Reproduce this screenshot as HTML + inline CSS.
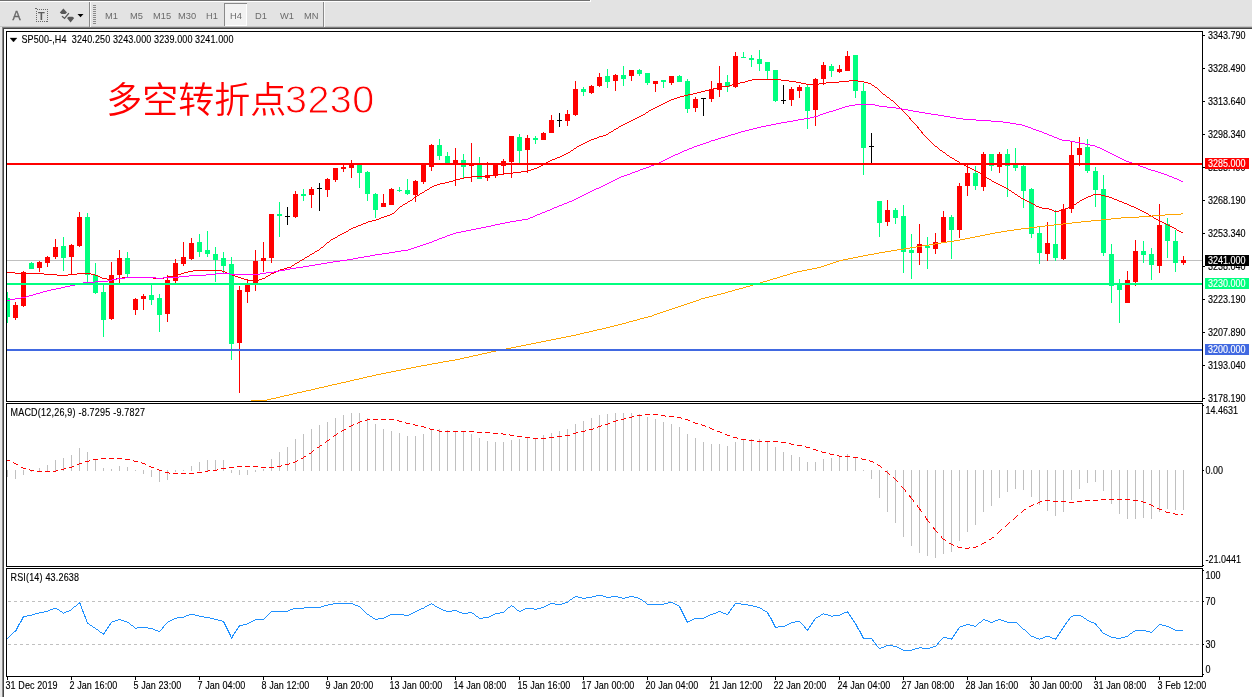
<!DOCTYPE html>
<html lang="zh"><head><meta charset="utf-8"><title>SP500-,H4</title>
<style>
html,body{margin:0;padding:0;background:#e3e3e3;}
body{width:1252px;height:697px;overflow:hidden;position:relative;font-family:"Liberation Sans","Noto Sans CJK SC",sans-serif;}
#tb{position:absolute;left:0;top:0;width:1252px;height:29px;background:#e3e3e3;}
.tf{position:absolute;top:8px;height:14px;line-height:14px;font-size:10px;color:#6a6a6a;white-space:nowrap;}
#chart{position:absolute;left:0;top:0;}
svg{will-change:transform;}
svg text{font-family:"Liberation Sans","Noto Sans CJK SC",sans-serif;}
.ax{font-size:9px;fill:#000;stroke:#000;stroke-width:0.12px;}
.note{position:absolute;left:106.2px;top:78.3px;font-size:36px;line-height:46px;color:#ff0000;font-weight:350;white-space:nowrap;font-family:"Liberation Sans","Noto Sans CJK SC",sans-serif;}
.note span{font-family:"Liberation Sans","Noto Sans CJK SC",sans-serif;font-weight:400;font-size:39.5px;line-height:0;letter-spacing:0.45px;margin-left:-1.2px;-webkit-text-stroke:0.9px #fff;}
</style></head><body>

<div id="tb"></div>
<svg id="chart" width="1252" height="697" viewBox="0 0 1252 697">
<rect x="0" y="0" width="590" height="1" fill="#707070"/><rect x="0" y="1" width="591" height="1" fill="#fff"/><rect x="590" y="0" width="1" height="2" fill="#fff"/>
<rect x="0" y="26" width="1252" height="1" fill="#c6c6c6"/><rect x="0" y="27" width="1252" height="1" fill="#7e7e7e"/><rect x="0" y="28" width="1252" height="1" fill="#444"/>
<rect x="4" y="29" width="1248" height="668" fill="#fff"/>
<rect x="0" y="27" width="2" height="670" fill="#e9e9e9"/><rect x="2" y="27" width="1" height="670" fill="#8a8a8a"/><rect x="3" y="28" width="1" height="669" fill="#444"/>
<g id="tbicons">
<rect x="224" y="3" width="23" height="23" fill="#f2f2f2"/><rect x="224" y="3" width="23" height="1" fill="#8a8a8a"/><rect x="224" y="3" width="1" height="23" fill="#8a8a8a"/><rect x="246" y="4" width="1" height="22" fill="#fff"/><rect x="225" y="25" width="22" height="1" fill="#fff"/>
<rect x="89" y="2" width="1" height="25" fill="#8a8a8a"/><rect x="90" y="2" width="1" height="25" fill="#f8f8f8"/>
<rect x="323" y="2" width="1" height="25" fill="#8a8a8a"/><rect x="324" y="2" width="1" height="25" fill="#f8f8f8"/>
<rect x="93" y="5" width="3" height="1" fill="#8a8a8a"/>
<rect x="93" y="7" width="3" height="1" fill="#8a8a8a"/>
<rect x="93" y="9" width="3" height="1" fill="#8a8a8a"/>
<rect x="93" y="11" width="3" height="1" fill="#8a8a8a"/>
<rect x="93" y="13" width="3" height="1" fill="#8a8a8a"/>
<rect x="93" y="15" width="3" height="1" fill="#8a8a8a"/>
<rect x="93" y="17" width="3" height="1" fill="#8a8a8a"/>
<rect x="93" y="19" width="3" height="1" fill="#8a8a8a"/>
<rect x="93" y="21" width="3" height="1" fill="#8a8a8a"/>
<rect x="93" y="23" width="3" height="1" fill="#8a8a8a"/>
<text x="12.4" y="19.9" style="font-size:12.2px;fill:#686868;stroke:#686868;stroke-width:0.4px">A</text>
<rect x="36.5" y="9.5" width="11" height="12" fill="none" stroke="#686868" stroke-width="1" stroke-dasharray="1 1" shape-rendering="crispEdges"/>
<rect x="35" y="8" width="2" height="1" fill="#686868" shape-rendering="crispEdges"/>
<text x="38" y="19.7" style="font-size:11px;fill:#5c5c5c;font-weight:bold">T</text>
<path d="M63.4 8.6L67 12.6L65.3 14L61.5 14L59.8 12.6Z M70.6 22.4L74.2 18L72.5 16.7L68.7 16.7L67 18Z" fill="#585858"/>
<path d="M62 16.2L64.6 18.4L68.9 13.2" fill="none" stroke="#585858" stroke-width="1.3"/>
<path d="M77.5 14H83.5L80.5 17.2Z" fill="#000"/>
<text x="105" y="18.8" style="font-size:9.3px;fill:#6a6a6a">M1</text>
<text x="130" y="18.8" style="font-size:9.3px;fill:#6a6a6a">M5</text>
<text x="153" y="18.8" style="font-size:9.3px;fill:#6a6a6a">M15</text>
<text x="178" y="18.8" style="font-size:9.3px;fill:#6a6a6a">M30</text>
<text x="206" y="18.8" style="font-size:9.3px;fill:#6a6a6a">H1</text>
<text x="230" y="18.8" style="font-size:9.3px;fill:#6a6a6a">H4</text>
<text x="255" y="18.8" style="font-size:9.3px;fill:#6a6a6a">D1</text>
<text x="280" y="18.8" style="font-size:9.3px;fill:#6a6a6a">W1</text>
<text x="304" y="18.8" style="font-size:9.3px;fill:#6a6a6a">MN</text>
</g>
<g shape-rendering="crispEdges">
<path d="M6.5 31.5H1202.5V401.5H6.5Z" fill="none" stroke="#000" stroke-width="1"/>
<path d="M6.5 403.5H1202.5V566.5H6.5Z" fill="none" stroke="#000" stroke-width="1"/>
<path d="M6.5 568.5H1202.5V676.5H6.5Z" fill="none" stroke="#000" stroke-width="1"/>
<rect x="7" y="260" width="1195" height="1" fill="#c0c0c0"/>
</g>
<defs><clipPath id="cm"><rect x="7" y="32" width="1195" height="369"/></clipPath></defs>
<g clip-path="url(#cm)" shape-rendering="crispEdges">
<rect x="7" y="292" width="1" height="31" fill="#00ff7f"/>
<rect x="5" y="298" width="5" height="19" fill="#00ff7f"/>
<rect x="15" y="302" width="1" height="18" fill="#ff0000"/>
<rect x="13" y="305" width="5" height="13" fill="#ff0000"/>
<rect x="23" y="271" width="1" height="36" fill="#ff0000"/>
<rect x="21" y="272" width="5" height="34" fill="#ff0000"/>
<rect x="31" y="262" width="1" height="7" fill="#00ff7f"/>
<rect x="29" y="263" width="5" height="6" fill="#00ff7f"/>
<rect x="39" y="261" width="1" height="11" fill="#ff0000"/>
<rect x="37" y="262" width="5" height="6" fill="#ff0000"/>
<rect x="47" y="256" width="1" height="11" fill="#ff0000"/>
<rect x="45" y="257" width="5" height="6" fill="#ff0000"/>
<rect x="55" y="239" width="1" height="20" fill="#ff0000"/>
<rect x="53" y="247" width="5" height="10" fill="#ff0000"/>
<rect x="63" y="237" width="1" height="34" fill="#00ff7f"/>
<rect x="61" y="246" width="5" height="12" fill="#00ff7f"/>
<rect x="71" y="244" width="1" height="30" fill="#ff0000"/>
<rect x="69" y="245" width="5" height="12" fill="#ff0000"/>
<rect x="79" y="212" width="1" height="35" fill="#ff0000"/>
<rect x="77" y="217" width="5" height="29" fill="#ff0000"/>
<rect x="87" y="213" width="1" height="70" fill="#00ff7f"/>
<rect x="85" y="217" width="5" height="58" fill="#00ff7f"/>
<rect x="95" y="263" width="1" height="31" fill="#00ff7f"/>
<rect x="93" y="275" width="5" height="18" fill="#00ff7f"/>
<rect x="103" y="285" width="1" height="52" fill="#00ff7f"/>
<rect x="101" y="292" width="5" height="28" fill="#00ff7f"/>
<rect x="111" y="262" width="1" height="58" fill="#ff0000"/>
<rect x="109" y="275" width="5" height="44" fill="#ff0000"/>
<rect x="119" y="250" width="1" height="33" fill="#ff0000"/>
<rect x="117" y="258" width="5" height="17" fill="#ff0000"/>
<rect x="127" y="252" width="1" height="26" fill="#00ff7f"/>
<rect x="125" y="258" width="5" height="16" fill="#00ff7f"/>
<rect x="135" y="298" width="1" height="17" fill="#ff0000"/>
<rect x="133" y="299" width="5" height="11" fill="#ff0000"/>
<rect x="143" y="294" width="1" height="16" fill="#ff0000"/>
<rect x="141" y="296" width="5" height="3" fill="#ff0000"/>
<rect x="151" y="285" width="1" height="20" fill="#00ff7f"/>
<rect x="149" y="295" width="5" height="5" fill="#00ff7f"/>
<rect x="159" y="294" width="1" height="38" fill="#00ff7f"/>
<rect x="157" y="298" width="5" height="17" fill="#00ff7f"/>
<rect x="167" y="275" width="1" height="47" fill="#ff0000"/>
<rect x="165" y="280" width="5" height="34" fill="#ff0000"/>
<rect x="175" y="259" width="1" height="24" fill="#ff0000"/>
<rect x="173" y="263" width="5" height="18" fill="#ff0000"/>
<rect x="183" y="242" width="1" height="24" fill="#ff0000"/>
<rect x="181" y="257" width="5" height="7" fill="#ff0000"/>
<rect x="191" y="238" width="1" height="22" fill="#ff0000"/>
<rect x="189" y="243" width="5" height="16" fill="#ff0000"/>
<rect x="199" y="234" width="1" height="23" fill="#00ff7f"/>
<rect x="197" y="242" width="5" height="10" fill="#00ff7f"/>
<rect x="207" y="231" width="1" height="26" fill="#00ff7f"/>
<rect x="205" y="250" width="5" height="4" fill="#00ff7f"/>
<rect x="215" y="247" width="1" height="35" fill="#00ff7f"/>
<rect x="213" y="254" width="5" height="6" fill="#00ff7f"/>
<rect x="223" y="252" width="1" height="21" fill="#00ff7f"/>
<rect x="221" y="258" width="5" height="8" fill="#00ff7f"/>
<rect x="231" y="257" width="1" height="103" fill="#00ff7f"/>
<rect x="229" y="264" width="5" height="80" fill="#00ff7f"/>
<rect x="239" y="286" width="1" height="107" fill="#ff0000"/>
<rect x="237" y="290" width="5" height="53" fill="#ff0000"/>
<rect x="247" y="279" width="1" height="24" fill="#ff0000"/>
<rect x="245" y="285" width="5" height="7" fill="#ff0000"/>
<rect x="255" y="250" width="1" height="41" fill="#ff0000"/>
<rect x="253" y="261" width="5" height="22" fill="#ff0000"/>
<rect x="263" y="242" width="1" height="30" fill="#ff0000"/>
<rect x="261" y="258" width="5" height="3" fill="#ff0000"/>
<rect x="271" y="214" width="1" height="49" fill="#ff0000"/>
<rect x="269" y="214" width="5" height="44" fill="#ff0000"/>
<rect x="279" y="202" width="1" height="35" fill="#00ff7f"/>
<rect x="277" y="214" width="5" height="2" fill="#00ff7f"/>
<rect x="287" y="207" width="1" height="18" fill="#000"/>
<rect x="285" y="216" width="5" height="1" fill="#000"/>
<rect x="295" y="191" width="1" height="27" fill="#ff0000"/>
<rect x="293" y="194" width="5" height="23" fill="#ff0000"/>
<rect x="303" y="189" width="1" height="12" fill="#00ff7f"/>
<rect x="301" y="194" width="5" height="2" fill="#00ff7f"/>
<rect x="311" y="187" width="1" height="21" fill="#ff0000"/>
<rect x="309" y="189" width="5" height="6" fill="#ff0000"/>
<rect x="319" y="183" width="1" height="28" fill="#000"/>
<rect x="317" y="188" width="5" height="1" fill="#000"/>
<rect x="327" y="178" width="1" height="19" fill="#ff0000"/>
<rect x="325" y="179" width="5" height="11" fill="#ff0000"/>
<rect x="335" y="168" width="1" height="14" fill="#ff0000"/>
<rect x="333" y="168" width="5" height="12" fill="#ff0000"/>
<rect x="343" y="165" width="1" height="7" fill="#ff0000"/>
<rect x="341" y="167" width="5" height="2" fill="#ff0000"/>
<rect x="351" y="160" width="1" height="18" fill="#ff0000"/>
<rect x="349" y="164" width="5" height="4" fill="#ff0000"/>
<rect x="359" y="165" width="1" height="23" fill="#00ff7f"/>
<rect x="357" y="165" width="5" height="8" fill="#00ff7f"/>
<rect x="367" y="171" width="1" height="30" fill="#00ff7f"/>
<rect x="365" y="172" width="5" height="22" fill="#00ff7f"/>
<rect x="375" y="193" width="1" height="25" fill="#00ff7f"/>
<rect x="373" y="194" width="5" height="16" fill="#00ff7f"/>
<rect x="383" y="194" width="1" height="13" fill="#ff0000"/>
<rect x="381" y="203" width="5" height="4" fill="#ff0000"/>
<rect x="391" y="188" width="1" height="17" fill="#ff0000"/>
<rect x="389" y="189" width="5" height="16" fill="#ff0000"/>
<rect x="399" y="187" width="1" height="5" fill="#00ff7f"/>
<rect x="397" y="190" width="5" height="1" fill="#00ff7f"/>
<rect x="407" y="179" width="1" height="16" fill="#00ff7f"/>
<rect x="405" y="190" width="5" height="4" fill="#00ff7f"/>
<rect x="415" y="180" width="1" height="22" fill="#ff0000"/>
<rect x="413" y="181" width="5" height="14" fill="#ff0000"/>
<rect x="423" y="163" width="1" height="21" fill="#ff0000"/>
<rect x="421" y="163" width="5" height="19" fill="#ff0000"/>
<rect x="431" y="144" width="1" height="27" fill="#ff0000"/>
<rect x="429" y="145" width="5" height="22" fill="#ff0000"/>
<rect x="439" y="139" width="1" height="21" fill="#00ff7f"/>
<rect x="437" y="145" width="5" height="11" fill="#00ff7f"/>
<rect x="447" y="152" width="1" height="11" fill="#00ff7f"/>
<rect x="445" y="156" width="5" height="7" fill="#00ff7f"/>
<rect x="455" y="148" width="1" height="38" fill="#ff0000"/>
<rect x="453" y="160" width="5" height="5" fill="#ff0000"/>
<rect x="463" y="154" width="1" height="24" fill="#00ff7f"/>
<rect x="461" y="160" width="5" height="7" fill="#00ff7f"/>
<rect x="471" y="143" width="1" height="39" fill="#ff0000"/>
<rect x="469" y="163" width="5" height="3" fill="#ff0000"/>
<rect x="479" y="157" width="1" height="22" fill="#00ff7f"/>
<rect x="477" y="165" width="5" height="14" fill="#00ff7f"/>
<rect x="487" y="162" width="1" height="19" fill="#ff0000"/>
<rect x="485" y="176" width="5" height="2" fill="#ff0000"/>
<rect x="495" y="164" width="1" height="14" fill="#ff0000"/>
<rect x="493" y="164" width="5" height="12" fill="#ff0000"/>
<rect x="503" y="159" width="1" height="15" fill="#ff0000"/>
<rect x="501" y="161" width="5" height="5" fill="#ff0000"/>
<rect x="511" y="136" width="1" height="42" fill="#ff0000"/>
<rect x="509" y="136" width="5" height="26" fill="#ff0000"/>
<rect x="519" y="134" width="1" height="29" fill="#00ff7f"/>
<rect x="517" y="137" width="5" height="14" fill="#00ff7f"/>
<rect x="527" y="135" width="1" height="38" fill="#ff0000"/>
<rect x="525" y="138" width="5" height="12" fill="#ff0000"/>
<rect x="535" y="136" width="1" height="8" fill="#00ff7f"/>
<rect x="533" y="138" width="5" height="2" fill="#00ff7f"/>
<rect x="543" y="132" width="1" height="8" fill="#ff0000"/>
<rect x="541" y="133" width="5" height="7" fill="#ff0000"/>
<rect x="551" y="115" width="1" height="18" fill="#ff0000"/>
<rect x="549" y="120" width="5" height="13" fill="#ff0000"/>
<rect x="559" y="113" width="1" height="14" fill="#000"/>
<rect x="557" y="120" width="5" height="1" fill="#000"/>
<rect x="567" y="110" width="1" height="16" fill="#ff0000"/>
<rect x="565" y="114" width="5" height="7" fill="#ff0000"/>
<rect x="575" y="81" width="1" height="35" fill="#ff0000"/>
<rect x="573" y="89" width="5" height="26" fill="#ff0000"/>
<rect x="583" y="87" width="1" height="9" fill="#00ff7f"/>
<rect x="581" y="89" width="5" height="3" fill="#00ff7f"/>
<rect x="591" y="85" width="1" height="9" fill="#ff0000"/>
<rect x="589" y="86" width="5" height="7" fill="#ff0000"/>
<rect x="599" y="73" width="1" height="14" fill="#ff0000"/>
<rect x="597" y="77" width="5" height="9" fill="#ff0000"/>
<rect x="607" y="69" width="1" height="19" fill="#00ff7f"/>
<rect x="605" y="76" width="5" height="6" fill="#00ff7f"/>
<rect x="615" y="74" width="1" height="17" fill="#ff0000"/>
<rect x="613" y="75" width="5" height="6" fill="#ff0000"/>
<rect x="623" y="66" width="1" height="20" fill="#00ff7f"/>
<rect x="621" y="75" width="5" height="4" fill="#00ff7f"/>
<rect x="631" y="70" width="1" height="11" fill="#ff0000"/>
<rect x="629" y="70" width="5" height="6" fill="#ff0000"/>
<rect x="639" y="69" width="1" height="7" fill="#00ff7f"/>
<rect x="637" y="70" width="5" height="4" fill="#00ff7f"/>
<rect x="647" y="73" width="1" height="12" fill="#00ff7f"/>
<rect x="645" y="73" width="5" height="10" fill="#00ff7f"/>
<rect x="655" y="81" width="1" height="11" fill="#ff0000"/>
<rect x="653" y="81" width="5" height="3" fill="#ff0000"/>
<rect x="663" y="80" width="1" height="8" fill="#00ff7f"/>
<rect x="661" y="80" width="5" height="2" fill="#00ff7f"/>
<rect x="671" y="76" width="1" height="9" fill="#ff0000"/>
<rect x="669" y="76" width="5" height="7" fill="#ff0000"/>
<rect x="679" y="75" width="1" height="7" fill="#00ff7f"/>
<rect x="677" y="76" width="5" height="6" fill="#00ff7f"/>
<rect x="687" y="79" width="1" height="34" fill="#00ff7f"/>
<rect x="685" y="81" width="5" height="28" fill="#00ff7f"/>
<rect x="695" y="97" width="1" height="15" fill="#ff0000"/>
<rect x="693" y="99" width="5" height="9" fill="#ff0000"/>
<rect x="703" y="98" width="1" height="18" fill="#000"/>
<rect x="701" y="98" width="5" height="1" fill="#000"/>
<rect x="711" y="81" width="1" height="21" fill="#ff0000"/>
<rect x="709" y="89" width="5" height="10" fill="#ff0000"/>
<rect x="719" y="66" width="1" height="31" fill="#ff0000"/>
<rect x="717" y="83" width="5" height="7" fill="#ff0000"/>
<rect x="727" y="75" width="1" height="17" fill="#00ff7f"/>
<rect x="725" y="82" width="5" height="5" fill="#00ff7f"/>
<rect x="735" y="52" width="1" height="36" fill="#ff0000"/>
<rect x="733" y="56" width="5" height="31" fill="#ff0000"/>
<rect x="743" y="52" width="1" height="6" fill="#00ff7f"/>
<rect x="741" y="57" width="5" height="1" fill="#00ff7f"/>
<rect x="751" y="55" width="1" height="12" fill="#00ff7f"/>
<rect x="749" y="58" width="5" height="2" fill="#00ff7f"/>
<rect x="759" y="50" width="1" height="21" fill="#00ff7f"/>
<rect x="757" y="59" width="5" height="5" fill="#00ff7f"/>
<rect x="767" y="62" width="1" height="17" fill="#00ff7f"/>
<rect x="765" y="62" width="5" height="9" fill="#00ff7f"/>
<rect x="775" y="70" width="1" height="32" fill="#00ff7f"/>
<rect x="773" y="70" width="5" height="31" fill="#00ff7f"/>
<rect x="783" y="85" width="1" height="19" fill="#000"/>
<rect x="781" y="100" width="5" height="1" fill="#000"/>
<rect x="791" y="87" width="1" height="19" fill="#ff0000"/>
<rect x="789" y="89" width="5" height="11" fill="#ff0000"/>
<rect x="799" y="85" width="1" height="13" fill="#ff0000"/>
<rect x="797" y="87" width="5" height="4" fill="#ff0000"/>
<rect x="807" y="85" width="1" height="44" fill="#00ff7f"/>
<rect x="805" y="87" width="5" height="24" fill="#00ff7f"/>
<rect x="815" y="78" width="1" height="48" fill="#ff0000"/>
<rect x="813" y="79" width="5" height="31" fill="#ff0000"/>
<rect x="823" y="62" width="1" height="23" fill="#ff0000"/>
<rect x="821" y="65" width="5" height="14" fill="#ff0000"/>
<rect x="831" y="64" width="1" height="13" fill="#00ff7f"/>
<rect x="829" y="66" width="5" height="5" fill="#00ff7f"/>
<rect x="839" y="65" width="1" height="8" fill="#ff0000"/>
<rect x="837" y="69" width="5" height="3" fill="#ff0000"/>
<rect x="847" y="51" width="1" height="20" fill="#ff0000"/>
<rect x="845" y="56" width="5" height="15" fill="#ff0000"/>
<rect x="855" y="55" width="1" height="43" fill="#00ff7f"/>
<rect x="853" y="55" width="5" height="36" fill="#00ff7f"/>
<rect x="863" y="83" width="1" height="92" fill="#00ff7f"/>
<rect x="861" y="91" width="5" height="57" fill="#00ff7f"/>
<rect x="871" y="133" width="1" height="31" fill="#000"/>
<rect x="869" y="146" width="5" height="1" fill="#000"/>
<rect x="879" y="201" width="1" height="36" fill="#00ff7f"/>
<rect x="877" y="201" width="5" height="22" fill="#00ff7f"/>
<rect x="887" y="200" width="1" height="26" fill="#ff0000"/>
<rect x="885" y="210" width="5" height="12" fill="#ff0000"/>
<rect x="895" y="208" width="1" height="16" fill="#00ff7f"/>
<rect x="893" y="210" width="5" height="8" fill="#00ff7f"/>
<rect x="903" y="205" width="1" height="68" fill="#00ff7f"/>
<rect x="901" y="216" width="5" height="36" fill="#00ff7f"/>
<rect x="911" y="234" width="1" height="45" fill="#00ff7f"/>
<rect x="909" y="250" width="5" height="3" fill="#00ff7f"/>
<rect x="919" y="224" width="1" height="41" fill="#ff0000"/>
<rect x="917" y="244" width="5" height="9" fill="#ff0000"/>
<rect x="927" y="237" width="1" height="32" fill="#00ff7f"/>
<rect x="925" y="246" width="5" height="2" fill="#00ff7f"/>
<rect x="935" y="233" width="1" height="21" fill="#ff0000"/>
<rect x="933" y="242" width="5" height="7" fill="#ff0000"/>
<rect x="943" y="211" width="1" height="32" fill="#ff0000"/>
<rect x="941" y="217" width="5" height="26" fill="#ff0000"/>
<rect x="951" y="215" width="1" height="44" fill="#00ff7f"/>
<rect x="949" y="217" width="5" height="13" fill="#00ff7f"/>
<rect x="959" y="183" width="1" height="55" fill="#ff0000"/>
<rect x="957" y="186" width="5" height="44" fill="#ff0000"/>
<rect x="967" y="165" width="1" height="31" fill="#ff0000"/>
<rect x="965" y="173" width="5" height="13" fill="#ff0000"/>
<rect x="975" y="166" width="1" height="24" fill="#00ff7f"/>
<rect x="973" y="173" width="5" height="13" fill="#00ff7f"/>
<rect x="983" y="152" width="1" height="39" fill="#ff0000"/>
<rect x="981" y="154" width="5" height="33" fill="#ff0000"/>
<rect x="991" y="154" width="1" height="17" fill="#00ff7f"/>
<rect x="989" y="154" width="5" height="12" fill="#00ff7f"/>
<rect x="999" y="152" width="1" height="21" fill="#ff0000"/>
<rect x="997" y="154" width="5" height="13" fill="#ff0000"/>
<rect x="1007" y="149" width="1" height="48" fill="#00ff7f"/>
<rect x="1005" y="154" width="5" height="12" fill="#00ff7f"/>
<rect x="1015" y="148" width="1" height="23" fill="#00ff7f"/>
<rect x="1013" y="165" width="5" height="3" fill="#00ff7f"/>
<rect x="1023" y="165" width="1" height="43" fill="#00ff7f"/>
<rect x="1021" y="166" width="5" height="25" fill="#00ff7f"/>
<rect x="1031" y="188" width="1" height="50" fill="#00ff7f"/>
<rect x="1029" y="189" width="5" height="45" fill="#00ff7f"/>
<rect x="1039" y="226" width="1" height="38" fill="#00ff7f"/>
<rect x="1037" y="233" width="5" height="20" fill="#00ff7f"/>
<rect x="1047" y="222" width="1" height="39" fill="#ff0000"/>
<rect x="1045" y="243" width="5" height="11" fill="#ff0000"/>
<rect x="1055" y="210" width="1" height="51" fill="#00ff7f"/>
<rect x="1053" y="244" width="5" height="14" fill="#00ff7f"/>
<rect x="1063" y="204" width="1" height="56" fill="#ff0000"/>
<rect x="1061" y="209" width="5" height="50" fill="#ff0000"/>
<rect x="1071" y="141" width="1" height="72" fill="#ff0000"/>
<rect x="1069" y="155" width="5" height="54" fill="#ff0000"/>
<rect x="1079" y="137" width="1" height="29" fill="#ff0000"/>
<rect x="1077" y="148" width="5" height="7" fill="#ff0000"/>
<rect x="1087" y="139" width="1" height="34" fill="#00ff7f"/>
<rect x="1085" y="147" width="5" height="24" fill="#00ff7f"/>
<rect x="1095" y="167" width="1" height="40" fill="#00ff7f"/>
<rect x="1093" y="171" width="5" height="19" fill="#00ff7f"/>
<rect x="1103" y="175" width="1" height="81" fill="#00ff7f"/>
<rect x="1101" y="189" width="5" height="64" fill="#00ff7f"/>
<rect x="1111" y="244" width="1" height="59" fill="#00ff7f"/>
<rect x="1109" y="254" width="5" height="32" fill="#00ff7f"/>
<rect x="1119" y="279" width="1" height="44" fill="#00ff7f"/>
<rect x="1117" y="284" width="5" height="6" fill="#00ff7f"/>
<rect x="1127" y="271" width="1" height="32" fill="#ff0000"/>
<rect x="1125" y="280" width="5" height="23" fill="#ff0000"/>
<rect x="1135" y="240" width="1" height="46" fill="#ff0000"/>
<rect x="1133" y="251" width="5" height="31" fill="#ff0000"/>
<rect x="1143" y="241" width="1" height="22" fill="#00ff7f"/>
<rect x="1141" y="251" width="5" height="4" fill="#00ff7f"/>
<rect x="1151" y="248" width="1" height="32" fill="#00ff7f"/>
<rect x="1149" y="254" width="5" height="11" fill="#00ff7f"/>
<rect x="1159" y="204" width="1" height="69" fill="#ff0000"/>
<rect x="1157" y="225" width="5" height="41" fill="#ff0000"/>
<rect x="1167" y="218" width="1" height="40" fill="#00ff7f"/>
<rect x="1165" y="224" width="5" height="17" fill="#00ff7f"/>
<rect x="1175" y="230" width="1" height="42" fill="#00ff7f"/>
<rect x="1173" y="241" width="5" height="22" fill="#00ff7f"/>
<rect x="1183" y="256" width="1" height="9" fill="#ff0000"/>
<rect x="1181" y="260" width="5" height="3" fill="#ff0000"/>
<path d="M7 272.5h8M15 273.5h29M44 274.5h13M57 275.5h11M68 274.5h9M77 273.5h14M91 274.5h4M95 275.5h3M98 276.5h2M100 277.5h2M102 278.5h5M107 279.5h9M116 278.5h6M122 277.5h31M153 278.5h11M164 277.5h4M168 276.5h5M173 275.5h5M178 274.5h3M181 273.5h3M184 272.5h4M188 271.5h5M193 270.5h29M222 271.5h3M225 272.5h2M227 273.5h3M230 274.5h2M232 275.5h3M235 276.5h3M238 277.5h3M241 278.5h3M244 279.5h3M247 280.5h12M259 279.5h3M262 278.5h3M265 277.5h1M266 276.5h2M268 275.5h2M270 274.5h1M271 273.5h3M274 272.5h2M276 271.5h2M278 270.5h2M280 269.5h4M284 268.5h3M287 267.5h4M291 266.5h1M292 265.5h2M294 264.5h1M295 263.5h2M297 262.5h2M299 261.5h1M300 260.5h2M302 259.5h2M304 258.5h1M305 257.5h2M307 256.5h2M309 255.5h1M310 254.5h2M312 253.5h2M314 252.5h1M315 251.5h2M317 250.5h2M319 249.5h1M320 248.5h1M321 247.5h2M323 246.5h1M324 245.5h1M325 244.5h1M326 243.5h1M327 242.5h2M329 241.5h1M330 240.5h1M331 239.5h2M333 238.5h2M335 237.5h2M337 236.5h1M338 235.5h2M340 234.5h2M342 233.5h2M344 232.5h2M346 231.5h2M348 230.5h1M349 229.5h2M351 228.5h2M353 227.5h3M356 226.5h2M358 225.5h3M361 224.5h2M363 223.5h3M366 222.5h2M368 221.5h4M372 220.5h4M376 219.5h3M379 218.5h2M381 217.5h3M384 216.5h3M387 215.5h3M390 214.5h2M392 213.5h2M394 212.5h1M395 211.5h1M396 210.5h1M397 209.5h1M398 208.5h1M399 207.5h1M400 206.5h2M402 205.5h1M403 204.5h2M405 203.5h2M407 202.5h1M408 201.5h2M410 200.5h2M412 199.5h1M413 198.5h1M414 197.5h1M415 196.5h2M417 195.5h2M419 194.5h1M420 193.5h2M422 192.5h2M424 191.5h1M425 190.5h2M427 189.5h2M429 188.5h1M430 187.5h2M432 186.5h2M434 185.5h3M437 184.5h3M440 183.5h5M445 182.5h4M449 181.5h4M453 180.5h3M456 179.5h4M460 178.5h4M464 177.5h7M471 176.5h14M485 175.5h12M497 174.5h7M504 173.5h9M513 172.5h8M521 171.5h6M527 170.5h4M531 169.5h3M534 168.5h3M537 167.5h2M539 166.5h2M541 165.5h2M543 164.5h2M545 163.5h1M546 162.5h2M548 161.5h2M550 160.5h2M552 159.5h3M555 158.5h2M557 157.5h3M560 156.5h2M562 155.5h2M564 154.5h2M566 153.5h2M568 152.5h2M570 151.5h1M571 150.5h2M573 149.5h1M574 148.5h2M576 147.5h1M577 146.5h2M579 145.5h2M581 144.5h2M583 143.5h2M585 142.5h2M587 141.5h2M589 140.5h2M591 139.5h3M594 138.5h3M597 137.5h2M599 136.5h4M603 135.5h3M606 134.5h2M608 133.5h1M609 132.5h2M611 131.5h2M613 130.5h1M614 129.5h2M616 128.5h2M618 127.5h1M619 126.5h2M621 125.5h2M623 124.5h2M625 123.5h2M627 122.5h2M629 121.5h2M631 120.5h2M633 119.5h2M635 118.5h2M637 117.5h2M639 116.5h2M641 115.5h2M643 114.5h2M645 113.5h1M646 112.5h2M648 111.5h1M649 110.5h2M651 109.5h2M653 108.5h2M655 107.5h2M657 106.5h2M659 105.5h2M661 104.5h2M663 103.5h2M665 102.5h2M667 101.5h2M669 100.5h2M671 99.5h3M674 98.5h3M677 97.5h3M680 96.5h4M684 95.5h4M688 94.5h5M693 93.5h4M697 92.5h4M701 91.5h4M705 90.5h4M709 89.5h4M713 88.5h4M717 87.5h4M721 86.5h8M729 85.5h3M732 84.5h4M736 83.5h4M740 82.5h5M745 81.5h3M748 80.5h4M752 79.5h29M781 80.5h8M789 81.5h7M796 82.5h5M801 83.5h5M806 84.5h13M819 83.5h7M826 82.5h13M839 81.5h10M849 80.5h9M858 81.5h6M864 82.5h4M868 83.5h3M871 84.5h1M872 85.5h2M874 86.5h1M875 87.5h2M877 88.5h1M878 89.5h1M879 90.5h1M880 91.5h1M881 92.5h1M882 93.5h1M883 94.5h2M885 95.5h1M886 96.5h1M887 97.5h2M889 98.5h1M890 99.5h1M891 100.5h2M893 101.5h1M894 102.5h1M895 103.5h1M896 104.5h1M897 105.5h1M898 106.5h1M899 107.5h1M900 108.5h1M901 109.5h1M902 110.5h1M903 111.5h1M904 112.5h1M905 113.5h1M906 114.5h1M907 115.5h1M908 116.5h1M909.5 117v2M910.5 118v2M911 120.5h1M912 121.5h1M913 122.5h1M914 123.5h1M915 124.5h1M916 125.5h1M917.5 126v2M918.5 127v2M919 129.5h1M920 130.5h1M921.5 131v2M922.5 132v2M923 134.5h1M924 135.5h1M925 136.5h1M926 137.5h1M927 138.5h1M928 139.5h1M929 140.5h1M930 141.5h1M931 142.5h1M932 143.5h1M933 144.5h1M934 145.5h1M935 146.5h2M937 147.5h1M938 148.5h1M939 149.5h1M940 150.5h2M942 151.5h1M943 152.5h2M945 153.5h1M946 154.5h1M947 155.5h2M949 156.5h1M950 157.5h2M952 158.5h2M954 159.5h1M955 160.5h2M957 161.5h2M959 162.5h1M960 163.5h2M962 164.5h2M964 165.5h2M966 166.5h2M968 167.5h2M970 168.5h2M972 169.5h2M974 170.5h2M976 171.5h2M978 172.5h2M980 173.5h2M982 174.5h1M983 175.5h2M985 176.5h1M986 177.5h1M987 178.5h2M989 179.5h2M991 180.5h1M992 181.5h2M994 182.5h2M996 183.5h2M998 184.5h2M1000 185.5h2M1002 186.5h2M1004 187.5h2M1006 188.5h2M1008 189.5h1M1009 190.5h2M1011 191.5h1M1012 192.5h2M1014 193.5h1M1015 194.5h2M1017 195.5h1M1018 196.5h2M1020 197.5h1M1021 198.5h2M1023 199.5h2M1025 200.5h2M1027 201.5h2M1029 202.5h2M1031 203.5h2M1033 204.5h2M1035 205.5h1M1036 206.5h3M1039 207.5h3M1042 208.5h7M1049 209.5h3M1052 210.5h2M1054 211.5h5M1059 210.5h3M1062 209.5h3M1065 208.5h3M1068 207.5h2M1070 206.5h3M1073 205.5h1M1074 204.5h2M1076 203.5h1M1077 202.5h2M1079 201.5h1M1080 200.5h2M1082 199.5h2M1084 198.5h2M1086 197.5h2M1088 196.5h3M1091 195.5h2M1093 194.5h8M1101 195.5h4M1105 196.5h4M1109 197.5h3M1112 198.5h2M1114 199.5h3M1117 200.5h2M1119 201.5h3M1122 202.5h2M1124 203.5h3M1127 204.5h2M1129 205.5h2M1131 206.5h3M1134 207.5h2M1136 208.5h2M1138 209.5h2M1140 210.5h2M1142 211.5h2M1144 212.5h2M1146 213.5h2M1148 214.5h1M1149 215.5h2M1151 216.5h2M1153 217.5h1M1154 218.5h2M1156 219.5h2M1158 220.5h2M1160 221.5h2M1162 222.5h2M1164 223.5h2M1166 224.5h2M1168 225.5h2M1170 226.5h2M1172 227.5h2M1174 228.5h2M1176 229.5h1M1177 230.5h2M1179 231.5h2M1181 232.5h2" fill="none" stroke="#ff0000" stroke-width="1"/>
<path d="M7 300.5h3M10 299.5h5M15 298.5h6M21 297.5h5M26 296.5h3M29 295.5h4M33 294.5h3M36 293.5h4M40 292.5h3M43 291.5h4M47 290.5h4M51 289.5h5M56 288.5h5M61 287.5h4M65 286.5h5M70 285.5h5M75 284.5h4M79 283.5h4M83 282.5h12M95 281.5h13M108 280.5h4M112 279.5h5M117 278.5h8M125 277.5h31M156 278.5h7M163 277.5h16M179 276.5h10M189 275.5h17M206 274.5h10M216 273.5h14M230 274.5h30M260 273.5h6M266 272.5h8M274 271.5h5M279 270.5h6M285 269.5h5M290 268.5h6M296 267.5h7M303 266.5h6M309 265.5h6M315 264.5h6M321 263.5h6M327 262.5h6M333 261.5h7M340 260.5h7M347 259.5h6M353 258.5h5M358 257.5h6M364 256.5h6M370 255.5h5M375 254.5h7M382 253.5h7M389 252.5h6M395 251.5h6M401 250.5h7M408 249.5h3M411 248.5h3M414 247.5h3M417 246.5h3M420 245.5h3M423 244.5h3M426 243.5h3M429 242.5h3M432 241.5h2M434 240.5h3M437 239.5h2M439 238.5h3M442 237.5h3M445 236.5h2M447 235.5h3M450 234.5h3M453 233.5h3M456 232.5h5M461 231.5h5M466 230.5h5M471 229.5h5M476 228.5h5M481 227.5h5M486 226.5h5M491 225.5h4M495 224.5h5M500 223.5h5M505 222.5h5M510 221.5h6M516 220.5h6M522 219.5h6M528 218.5h2M530 217.5h3M533 216.5h2M535 215.5h2M537 214.5h3M540 213.5h2M542 212.5h3M545 211.5h2M547 210.5h3M550 209.5h2M552 208.5h2M554 207.5h3M557 206.5h2M559 205.5h3M562 204.5h2M564 203.5h3M567 202.5h2M569 201.5h3M572 200.5h2M574 199.5h2M576 198.5h2M578 197.5h2M580 196.5h2M582 195.5h2M584 194.5h2M586 193.5h2M588 192.5h2M590 191.5h2M592 190.5h2M594 189.5h2M596 188.5h3M599 187.5h2M601 186.5h2M603 185.5h2M605 184.5h2M607 183.5h2M609 182.5h2M611 181.5h2M613 180.5h2M615 179.5h2M617 178.5h2M619 177.5h2M621 176.5h3M624 175.5h3M627 174.5h3M630 173.5h2M632 172.5h3M635 171.5h3M638 170.5h2M640 169.5h3M643 168.5h3M646 167.5h3M649 166.5h2M651 165.5h3M654 164.5h3M657 163.5h2M659 162.5h2M661 161.5h2M663 160.5h2M665 159.5h2M667 158.5h2M669 157.5h2M671 156.5h2M673 155.5h2M675 154.5h3M678 153.5h2M680 152.5h2M682 151.5h2M684 150.5h3M687 149.5h2M689 148.5h3M692 147.5h2M694 146.5h3M697 145.5h3M700 144.5h3M703 143.5h3M706 142.5h3M709 141.5h2M711 140.5h4M715 139.5h3M718 138.5h3M721 137.5h4M725 136.5h3M728 135.5h3M731 134.5h4M735 133.5h3M738 132.5h3M741 131.5h4M745 130.5h4M749 129.5h4M753 128.5h4M757 127.5h4M761 126.5h5M766 125.5h5M771 124.5h5M776 123.5h5M781 122.5h6M787 121.5h6M793 120.5h5M798 119.5h6M804 118.5h6M810 117.5h4M814 116.5h4M818 115.5h2M820 114.5h3M823 113.5h3M826 112.5h3M829 111.5h4M833 110.5h3M836 109.5h3M839 108.5h3M842 107.5h3M845 106.5h4M849 105.5h6M855 104.5h20M875 105.5h4M879 106.5h8M887 107.5h9M896 108.5h6M902 109.5h6M908 110.5h5M913 111.5h6M919 112.5h6M925 113.5h6M931 114.5h7M938 115.5h6M944 116.5h6M950 117.5h6M956 118.5h7M963 119.5h13M976 120.5h15M991 121.5h12M1003 122.5h7M1010 123.5h6M1016 124.5h6M1022 125.5h3M1025 126.5h3M1028 127.5h3M1031 128.5h2M1033 129.5h3M1036 130.5h3M1039 131.5h3M1042 132.5h2M1044 133.5h3M1047 134.5h2M1049 135.5h3M1052 136.5h2M1054 137.5h3M1057 138.5h2M1059 139.5h3M1062 140.5h8M1070 141.5h5M1075 142.5h5M1080 143.5h5M1085 144.5h5M1090 145.5h5M1095 146.5h2M1097 147.5h3M1100 148.5h2M1102 149.5h2M1104 150.5h2M1106 151.5h2M1108 152.5h2M1110 153.5h2M1112 154.5h2M1114 155.5h2M1116 156.5h2M1118 157.5h2M1120 158.5h2M1122 159.5h2M1124 160.5h2M1126 161.5h3M1129 162.5h3M1132 163.5h3M1135 164.5h3M1138 165.5h2M1140 166.5h3M1143 167.5h3M1146 168.5h2M1148 169.5h3M1151 170.5h4M1155 171.5h3M1158 172.5h3M1161 173.5h3M1164 174.5h3M1167 175.5h2M1169 176.5h3M1172 177.5h2M1174 178.5h3M1177 179.5h2M1179 180.5h2M1181 181.5h2" fill="none" stroke="#ff00ff" stroke-width="1"/>
<path d="M251 400.5h16M267 399.5h4M271 398.5h5M276 397.5h4M280 396.5h4M284 395.5h5M289 394.5h4M293 393.5h4M297 392.5h5M302 391.5h4M306 390.5h5M311 389.5h4M315 388.5h4M319 387.5h5M324 386.5h4M328 385.5h4M332 384.5h5M337 383.5h4M341 382.5h5M346 381.5h4M350 380.5h4M354 379.5h5M359 378.5h4M363 377.5h4M367 376.5h5M372 375.5h4M376 374.5h5M381 373.5h5M386 372.5h5M391 371.5h5M396 370.5h5M401 369.5h5M406 368.5h5M411 367.5h5M416 366.5h5M421 365.5h6M427 364.5h5M432 363.5h6M438 362.5h5M443 361.5h6M449 360.5h6M455 359.5h5M460 358.5h4M464 357.5h5M469 356.5h4M473 355.5h5M478 354.5h4M482 353.5h5M487 352.5h4M491 351.5h5M496 350.5h5M501 349.5h5M506 348.5h5M511 347.5h5M516 346.5h5M521 345.5h5M526 344.5h5M531 343.5h5M536 342.5h5M541 341.5h5M546 340.5h5M551 339.5h5M556 338.5h5M561 337.5h5M566 336.5h5M571 335.5h5M576 334.5h4M580 333.5h4M584 332.5h5M589 331.5h4M593 330.5h4M597 329.5h5M602 328.5h4M606 327.5h4M610 326.5h4M614 325.5h4M618 324.5h4M622 323.5h4M626 322.5h3M629 321.5h4M633 320.5h4M637 319.5h3M640 318.5h4M644 317.5h4M648 316.5h4M652 315.5h2M654 314.5h3M657 313.5h3M660 312.5h3M663 311.5h3M666 310.5h3M669 309.5h3M672 308.5h3M675 307.5h3M678 306.5h3M681 305.5h3M684 304.5h3M687 303.5h3M690 302.5h3M693 301.5h3M696 300.5h3M699 299.5h2M701 298.5h4M705 297.5h4M709 296.5h4M713 295.5h4M717 294.5h4M721 293.5h4M725 292.5h3M728 291.5h4M732 290.5h3M735 289.5h4M739 288.5h4M743 287.5h3M746 286.5h4M750 285.5h3M753 284.5h4M757 283.5h3M760 282.5h3M763 281.5h4M767 280.5h3M770 279.5h3M773 278.5h4M777 277.5h3M780 276.5h3M783 275.5h4M787 274.5h3M790 273.5h3M793 272.5h4M797 271.5h5M802 270.5h5M807 269.5h5M812 268.5h5M817 267.5h4M821 266.5h3M824 265.5h3M827 264.5h3M830 263.5h3M833 262.5h3M836 261.5h3M839 260.5h4M843 259.5h5M848 258.5h5M853 257.5h5M858 256.5h5M863 255.5h5M868 254.5h6M874 253.5h5M879 252.5h6M885 251.5h6M891 250.5h6M897 249.5h7M904 248.5h6M910 247.5h6M916 246.5h6M922 245.5h7M929 244.5h6M935 243.5h6M941 242.5h6M947 241.5h7M954 240.5h6M960 239.5h5M965 238.5h5M970 237.5h5M975 236.5h5M980 235.5h5M985 234.5h5M990 233.5h5M995 232.5h6M1001 231.5h6M1007 230.5h7M1014 229.5h7M1021 228.5h8M1029 227.5h8M1037 226.5h8M1045 225.5h9M1054 224.5h9M1063 223.5h9M1072 222.5h9M1081 221.5h10M1091 220.5h10M1101 219.5h10M1111 218.5h10M1121 217.5h18M1139 216.5h13M1152 215.5h13M1165 214.5h16M1181 213.5h2" fill="none" stroke="#ffa500" stroke-width="1"/>
<rect x="7" y="163" width="1196" height="2" fill="#ff0000"/>
<rect x="7" y="283" width="1196" height="2" fill="#00ff7f"/>
<rect x="7" y="349" width="1196" height="2" fill="#4169e1"/>
</g>
<g shape-rendering="crispEdges">
<rect x="7" y="470" width="1" height="7" fill="#c0c0c0"/>
<rect x="15" y="470" width="1" height="9" fill="#c0c0c0"/>
<rect x="23" y="470" width="1" height="5" fill="#c0c0c0"/>
<rect x="31" y="470" width="1" height="2" fill="#c0c0c0"/>
<rect x="39" y="468" width="1" height="3" fill="#c0c0c0"/>
<rect x="47" y="465" width="1" height="6" fill="#c0c0c0"/>
<rect x="55" y="460" width="1" height="11" fill="#c0c0c0"/>
<rect x="63" y="458" width="1" height="13" fill="#c0c0c0"/>
<rect x="71" y="455" width="1" height="16" fill="#c0c0c0"/>
<rect x="79" y="448" width="1" height="23" fill="#c0c0c0"/>
<rect x="87" y="452" width="1" height="19" fill="#c0c0c0"/>
<rect x="95" y="460" width="1" height="11" fill="#c0c0c0"/>
<rect x="103" y="468" width="1" height="3" fill="#c0c0c0"/>
<rect x="111" y="469" width="1" height="2" fill="#c0c0c0"/>
<rect x="119" y="466" width="1" height="5" fill="#c0c0c0"/>
<rect x="127" y="467" width="1" height="4" fill="#c0c0c0"/>
<rect x="135" y="470" width="1" height="1" fill="#c0c0c0"/>
<rect x="143" y="470" width="1" height="4" fill="#c0c0c0"/>
<rect x="151" y="470" width="1" height="7" fill="#c0c0c0"/>
<rect x="159" y="470" width="1" height="12" fill="#c0c0c0"/>
<rect x="167" y="470" width="1" height="10" fill="#c0c0c0"/>
<rect x="175" y="470" width="1" height="2" fill="#c0c0c0"/>
<rect x="183" y="470" width="1" height="1" fill="#c0c0c0"/>
<rect x="191" y="466" width="1" height="5" fill="#c0c0c0"/>
<rect x="199" y="462" width="1" height="9" fill="#c0c0c0"/>
<rect x="207" y="460" width="1" height="11" fill="#c0c0c0"/>
<rect x="215" y="460" width="1" height="11" fill="#c0c0c0"/>
<rect x="223" y="460" width="1" height="11" fill="#c0c0c0"/>
<rect x="231" y="470" width="1" height="3" fill="#c0c0c0"/>
<rect x="239" y="470" width="1" height="5" fill="#c0c0c0"/>
<rect x="247" y="470" width="1" height="5" fill="#c0c0c0"/>
<rect x="255" y="470" width="1" height="2" fill="#c0c0c0"/>
<rect x="263" y="469" width="1" height="2" fill="#c0c0c0"/>
<rect x="271" y="459" width="1" height="12" fill="#c0c0c0"/>
<rect x="279" y="452" width="1" height="19" fill="#c0c0c0"/>
<rect x="287" y="447" width="1" height="24" fill="#c0c0c0"/>
<rect x="295" y="439" width="1" height="32" fill="#c0c0c0"/>
<rect x="303" y="434" width="1" height="37" fill="#c0c0c0"/>
<rect x="311" y="429" width="1" height="42" fill="#c0c0c0"/>
<rect x="319" y="425" width="1" height="46" fill="#c0c0c0"/>
<rect x="327" y="422" width="1" height="49" fill="#c0c0c0"/>
<rect x="335" y="418" width="1" height="53" fill="#c0c0c0"/>
<rect x="343" y="415" width="1" height="56" fill="#c0c0c0"/>
<rect x="351" y="413" width="1" height="58" fill="#c0c0c0"/>
<rect x="359" y="413" width="1" height="58" fill="#c0c0c0"/>
<rect x="367" y="418" width="1" height="53" fill="#c0c0c0"/>
<rect x="375" y="424" width="1" height="47" fill="#c0c0c0"/>
<rect x="383" y="429" width="1" height="42" fill="#c0c0c0"/>
<rect x="391" y="431" width="1" height="40" fill="#c0c0c0"/>
<rect x="399" y="433" width="1" height="38" fill="#c0c0c0"/>
<rect x="407" y="436" width="1" height="35" fill="#c0c0c0"/>
<rect x="415" y="436" width="1" height="35" fill="#c0c0c0"/>
<rect x="423" y="434" width="1" height="37" fill="#c0c0c0"/>
<rect x="431" y="430" width="1" height="41" fill="#c0c0c0"/>
<rect x="439" y="429" width="1" height="42" fill="#c0c0c0"/>
<rect x="447" y="430" width="1" height="41" fill="#c0c0c0"/>
<rect x="455" y="431" width="1" height="40" fill="#c0c0c0"/>
<rect x="463" y="431" width="1" height="40" fill="#c0c0c0"/>
<rect x="471" y="434" width="1" height="37" fill="#c0c0c0"/>
<rect x="479" y="438" width="1" height="33" fill="#c0c0c0"/>
<rect x="487" y="441" width="1" height="30" fill="#c0c0c0"/>
<rect x="495" y="442" width="1" height="29" fill="#c0c0c0"/>
<rect x="503" y="442" width="1" height="29" fill="#c0c0c0"/>
<rect x="511" y="440" width="1" height="31" fill="#c0c0c0"/>
<rect x="519" y="439" width="1" height="32" fill="#c0c0c0"/>
<rect x="527" y="438" width="1" height="33" fill="#c0c0c0"/>
<rect x="535" y="438" width="1" height="33" fill="#c0c0c0"/>
<rect x="543" y="435" width="1" height="36" fill="#c0c0c0"/>
<rect x="551" y="433" width="1" height="38" fill="#c0c0c0"/>
<rect x="559" y="431" width="1" height="40" fill="#c0c0c0"/>
<rect x="567" y="429" width="1" height="42" fill="#c0c0c0"/>
<rect x="575" y="424" width="1" height="47" fill="#c0c0c0"/>
<rect x="583" y="421" width="1" height="50" fill="#c0c0c0"/>
<rect x="591" y="418" width="1" height="53" fill="#c0c0c0"/>
<rect x="599" y="415" width="1" height="56" fill="#c0c0c0"/>
<rect x="607" y="414" width="1" height="57" fill="#c0c0c0"/>
<rect x="615" y="413" width="1" height="58" fill="#c0c0c0"/>
<rect x="623" y="413" width="1" height="58" fill="#c0c0c0"/>
<rect x="631" y="413" width="1" height="58" fill="#c0c0c0"/>
<rect x="639" y="414" width="1" height="57" fill="#c0c0c0"/>
<rect x="647" y="417" width="1" height="54" fill="#c0c0c0"/>
<rect x="655" y="419" width="1" height="52" fill="#c0c0c0"/>
<rect x="663" y="422" width="1" height="49" fill="#c0c0c0"/>
<rect x="671" y="424" width="1" height="47" fill="#c0c0c0"/>
<rect x="679" y="427" width="1" height="44" fill="#c0c0c0"/>
<rect x="687" y="434" width="1" height="37" fill="#c0c0c0"/>
<rect x="695" y="438" width="1" height="33" fill="#c0c0c0"/>
<rect x="703" y="442" width="1" height="29" fill="#c0c0c0"/>
<rect x="711" y="444" width="1" height="27" fill="#c0c0c0"/>
<rect x="719" y="444" width="1" height="27" fill="#c0c0c0"/>
<rect x="727" y="446" width="1" height="25" fill="#c0c0c0"/>
<rect x="735" y="442" width="1" height="29" fill="#c0c0c0"/>
<rect x="743" y="440" width="1" height="31" fill="#c0c0c0"/>
<rect x="751" y="439" width="1" height="32" fill="#c0c0c0"/>
<rect x="759" y="439" width="1" height="32" fill="#c0c0c0"/>
<rect x="767" y="441" width="1" height="30" fill="#c0c0c0"/>
<rect x="775" y="447" width="1" height="24" fill="#c0c0c0"/>
<rect x="783" y="452" width="1" height="19" fill="#c0c0c0"/>
<rect x="791" y="455" width="1" height="16" fill="#c0c0c0"/>
<rect x="799" y="457" width="1" height="14" fill="#c0c0c0"/>
<rect x="807" y="462" width="1" height="9" fill="#c0c0c0"/>
<rect x="815" y="462" width="1" height="9" fill="#c0c0c0"/>
<rect x="823" y="459" width="1" height="12" fill="#c0c0c0"/>
<rect x="831" y="458" width="1" height="13" fill="#c0c0c0"/>
<rect x="839" y="456" width="1" height="15" fill="#c0c0c0"/>
<rect x="847" y="454" width="1" height="17" fill="#c0c0c0"/>
<rect x="855" y="458" width="1" height="13" fill="#c0c0c0"/>
<rect x="863" y="470" width="1" height="1" fill="#c0c0c0"/>
<rect x="871" y="470" width="1" height="9" fill="#c0c0c0"/>
<rect x="879" y="470" width="1" height="28" fill="#c0c0c0"/>
<rect x="887" y="470" width="1" height="42" fill="#c0c0c0"/>
<rect x="895" y="470" width="1" height="53" fill="#c0c0c0"/>
<rect x="903" y="470" width="1" height="67" fill="#c0c0c0"/>
<rect x="911" y="470" width="1" height="76" fill="#c0c0c0"/>
<rect x="919" y="470" width="1" height="83" fill="#c0c0c0"/>
<rect x="927" y="470" width="1" height="86" fill="#c0c0c0"/>
<rect x="935" y="470" width="1" height="88" fill="#c0c0c0"/>
<rect x="943" y="470" width="1" height="84" fill="#c0c0c0"/>
<rect x="951" y="470" width="1" height="82" fill="#c0c0c0"/>
<rect x="959" y="470" width="1" height="71" fill="#c0c0c0"/>
<rect x="967" y="470" width="1" height="62" fill="#c0c0c0"/>
<rect x="975" y="470" width="1" height="55" fill="#c0c0c0"/>
<rect x="983" y="470" width="1" height="42" fill="#c0c0c0"/>
<rect x="991" y="470" width="1" height="36" fill="#c0c0c0"/>
<rect x="999" y="470" width="1" height="28" fill="#c0c0c0"/>
<rect x="1007" y="470" width="1" height="22" fill="#c0c0c0"/>
<rect x="1015" y="470" width="1" height="19" fill="#c0c0c0"/>
<rect x="1023" y="470" width="1" height="20" fill="#c0c0c0"/>
<rect x="1031" y="470" width="1" height="27" fill="#c0c0c0"/>
<rect x="1039" y="470" width="1" height="35" fill="#c0c0c0"/>
<rect x="1047" y="470" width="1" height="41" fill="#c0c0c0"/>
<rect x="1055" y="470" width="1" height="46" fill="#c0c0c0"/>
<rect x="1063" y="470" width="1" height="42" fill="#c0c0c0"/>
<rect x="1071" y="470" width="1" height="30" fill="#c0c0c0"/>
<rect x="1079" y="470" width="1" height="19" fill="#c0c0c0"/>
<rect x="1087" y="470" width="1" height="13" fill="#c0c0c0"/>
<rect x="1095" y="470" width="1" height="12" fill="#c0c0c0"/>
<rect x="1103" y="470" width="1" height="21" fill="#c0c0c0"/>
<rect x="1111" y="470" width="1" height="34" fill="#c0c0c0"/>
<rect x="1119" y="470" width="1" height="44" fill="#c0c0c0"/>
<rect x="1127" y="470" width="1" height="49" fill="#c0c0c0"/>
<rect x="1135" y="470" width="1" height="49" fill="#c0c0c0"/>
<rect x="1143" y="470" width="1" height="48" fill="#c0c0c0"/>
<rect x="1151" y="470" width="1" height="49" fill="#c0c0c0"/>
<rect x="1159" y="470" width="1" height="42" fill="#c0c0c0"/>
<rect x="1167" y="470" width="1" height="39" fill="#c0c0c0"/>
<rect x="1175" y="470" width="1" height="40" fill="#c0c0c0"/>
<rect x="1183" y="470" width="1" height="40" fill="#c0c0c0"/>
<path d="M7 460.5h3M13 462.5h1M14 463.5h2M16 464.5h2M21 467.5h2M23 468.5h3M29 469.5h1M30 470.5h4M37 471.5h5M45 471.5h5M53 471.5h3M56 470.5h2M61 469.5h3M64 468.5h2M69 467.5h3M72 466.5h2M77 464.5h2M79 463.5h3M85 461.5h4M89 460.5h1M93 459.5h5M101 458.5h5M109 458.5h5M117 458.5h5M125 459.5h5M133 460.5h1M134 461.5h4M141 462.5h1M142 463.5h3M145 464.5h1M149 466.5h2M151 467.5h3M157 469.5h2M159 470.5h3M165 472.5h4M169 473.5h1M173 473.5h5M181 473.5h5M189 473.5h5M197 472.5h5M205 471.5h3M208 470.5h2M213 470.5h4M217 469.5h1M221 468.5h5M229 467.5h5M237 466.5h5M245 466.5h5M253 466.5h5M261 467.5h5M269 467.5h5M277 466.5h4M281 465.5h1M285 464.5h4M289 463.5h1M293 462.5h2M295 461.5h2M297 460.5h1M301 458.5h2M303 457.5h1M304 456.5h2M309 453.5h2M311 452.5h1M312 451.5h1M313 450.5h1M317 447.5h2M319 446.5h1M320 445.5h2M325 442.5h1M326 441.5h1M327 440.5h2M329 439.5h1M333 436.5h1M334 435.5h2M336 434.5h1M337 433.5h1M341 431.5h1M342 430.5h2M344 429.5h2M349 426.5h2M351 425.5h2M353 424.5h1M357 423.5h1M358 422.5h2M360 421.5h2M365 420.5h2M367 419.5h3M373 419.5h5M381 419.5h5M389 419.5h5M397 420.5h2M399 421.5h3M405 422.5h1M406 423.5h4M413 424.5h2M415 425.5h3M421 426.5h3M424 427.5h2M429 428.5h1M430 429.5h4M437 430.5h2M439 431.5h3M445 431.5h5M453 431.5h5M461 431.5h5M469 431.5h5M477 432.5h5M485 432.5h5M493 433.5h5M501 433.5h2M503 434.5h3M509 434.5h1M510 435.5h4M517 436.5h5M525 437.5h5M533 438.5h5M541 438.5h5M549 437.5h5M557 436.5h5M565 435.5h5M573 433.5h3M576 432.5h2M581 431.5h4M585 430.5h1M589 429.5h4M593 428.5h1M597 427.5h1M598 426.5h3M601 425.5h1M605 424.5h3M608 423.5h2M613 421.5h3M616 420.5h2M621 419.5h3M624 418.5h2M629 417.5h3M632 416.5h2M637 415.5h5M645 414.5h5M653 414.5h5M661 415.5h4M665 416.5h1M669 416.5h5M677 417.5h4M681 418.5h1M685 419.5h3M688 420.5h2M693 422.5h2M695 423.5h3M701 424.5h1M702 425.5h3M705 426.5h1M709 427.5h1M710 428.5h2M712 429.5h2M717 431.5h3M720 432.5h2M725 434.5h2M727 435.5h3M733 437.5h4M737 438.5h1M741 439.5h5M749 440.5h5M757 441.5h5M765 441.5h5M773 441.5h5M781 442.5h5M789 443.5h2M791 444.5h3M797 445.5h5M805 446.5h1M806 447.5h4M813 449.5h3M816 450.5h2M821 451.5h1M822 452.5h4M829 453.5h1M830 454.5h4M837 455.5h2M839 456.5h3M845 456.5h5M853 457.5h5M861 458.5h1M862 459.5h4M869 460.5h1M870 461.5h3M873 462.5h1M877 464.5h1M878 465.5h2M880 466.5h1M881 467.5h1M885 471.5h2M887 472.5h1M888 473.5h1M889 474.5h1M893 477.5h1M894 478.5h1M895 479.5h1M896 480.5h1M897 481.5h1M901 486.5h1M902 487.5h1M903 488.5h1M904 489.5h1M905.5 490v2M909.5 495v2M910.5 496v2M911 498.5h1M912 499.5h1M913.5 500v2M917.5 505v2M918 507.5h1M919.5 508v2M920.5 509v2M921 511.5h1M925.5 516v2M926.5 518v2M927.5 519v2M928 521.5h1M929 522.5h1M933.5 527v2M934.5 528v2M935 530.5h1M936 531.5h1M937 532.5h1M941.5 536v2M942 538.5h1M943 539.5h2M945 540.5h1M949 543.5h2M951 544.5h2M953 545.5h1M957 546.5h1M958 547.5h4M965 548.5h4M969 547.5h1M973 547.5h3M976 546.5h2M981 544.5h1M982 543.5h2M984 542.5h2M989 539.5h2M991 538.5h1M992 537.5h2M997 533.5h1M998 532.5h1M999 531.5h1M1000 530.5h1M1001 529.5h1M1005 526.5h1M1006 525.5h1M1007 524.5h1M1008 523.5h1M1009 522.5h1M1013 519.5h1M1014 518.5h1M1015 517.5h1M1016 516.5h1M1017 515.5h1M1021 512.5h1M1022 511.5h1M1023 510.5h1M1024 509.5h2M1029 506.5h2M1031 505.5h2M1033 504.5h1M1037 503.5h1M1038 502.5h2M1040 501.5h2M1045 500.5h5M1053 501.5h5M1061 501.5h5M1069 502.5h5M1077 501.5h5M1085 500.5h5M1093 500.5h5M1101 499.5h5M1109 499.5h5M1117 499.5h5M1125 499.5h5M1133 500.5h5M1141 501.5h2M1143 502.5h3M1149 504.5h2M1151 505.5h2M1153 506.5h1M1157 508.5h2M1159 509.5h3M1165 511.5h1M1166 512.5h4M1173 513.5h2M1175 514.5h3M1181 514.5h2" fill="none" stroke="#ff0000" stroke-width="1"/>
<path d="M8 601.5H1202M8 644.5H1202" stroke="#c0c0c0" stroke-width="1" stroke-dasharray="3 3" fill="none"/>
<path d="M7 638.5h1M8 637.5h1M9 636.5h1M10 635.5h1M11 634.5h1M12 633.5h1M13 632.5h1M14 631.5h1M15.5 630v2M16.5 628v3M17.5 626v3M18.5 624v3M19.5 623v2M20.5 621v2M21.5 619v3M22.5 617v3M23.5 616v2M24 616.5h3M27 615.5h5M32 614.5h3M35 613.5h4M39 612.5h5M44 611.5h4M48 610.5h2M50 609.5h3M53 608.5h4M57 609.5h2M59 610.5h1M60 611.5h2M62 612.5h1M63 613.5h1M64 612.5h2M66 611.5h3M69 610.5h2M71 609.5h1M72 608.5h1M73 607.5h1M74 606.5h2M76 605.5h1M77 604.5h1M78 603.5h1M79.5 602v2M80.5 603v3M81.5 606v3M82.5 609v3M83.5 611v3M84.5 614v3M85.5 616v3M86.5 619v3M87.5 622v2M88 623.5h1M89 624.5h1M90 625.5h2M92 626.5h1M93 627.5h2M95 628.5h1M96 629.5h2M98 630.5h1M99 631.5h1M100 632.5h2M102 633.5h1M103.5 633v2M104.5 632v2M105.5 630v2M106.5 629v2M107.5 627v2M108.5 626v2M109.5 624v2M110.5 623v2M111 622.5h1M112 621.5h3M115 620.5h3M118 619.5h3M121 620.5h3M124 621.5h3M127 622.5h2M129 623.5h1M130 624.5h1M131 625.5h2M133 626.5h1M134 627.5h1M135 628.5h2M137 627.5h11M148 628.5h5M153 629.5h2M155 630.5h3M158 631.5h2M160 630.5h1M161 629.5h1M162.5 627v2M163.5 626v2M164 625.5h1M165 624.5h1M166 623.5h1M167 622.5h1M168 621.5h2M170 620.5h2M172 619.5h2M174 618.5h3M177 617.5h7M184 616.5h2M186 615.5h3M189 614.5h6M195 615.5h4M199 616.5h5M204 617.5h6M210 618.5h4M214 619.5h4M218 620.5h4M222 621.5h1M223.5 621v2M224.5 622v3M225.5 624v3M226.5 626v3M227.5 628v3M228.5 630v3M229.5 632v3M230.5 634v3M231.5 637v2M232.5 635v3M233.5 634v2M234.5 632v2M235.5 631v2M236.5 629v2M237.5 628v2M238.5 626v2M239.5 625v2M240 625.5h3M243 624.5h4M247 623.5h2M249 622.5h2M251 621.5h2M253 620.5h2M255 619.5h9M264 618.5h1M265 617.5h1M266 616.5h1M267 615.5h1M268 614.5h1M269 613.5h1M270 612.5h1M271 611.5h17M288 610.5h2M290 609.5h3M293 608.5h11M304 607.5h17M321 606.5h3M324 605.5h4M328 604.5h5M333 603.5h20M353 604.5h2M355 605.5h3M358 606.5h2M360 607.5h1M361 608.5h1M362 609.5h1M363 610.5h1M364 611.5h1M365 612.5h1M366 613.5h1M367 614.5h2M369 615.5h1M370 616.5h2M372 617.5h1M373 618.5h2M375 619.5h3M378 618.5h6M384 617.5h2M386 616.5h2M388 615.5h2M390 614.5h14M404 615.5h5M409 614.5h2M411 613.5h2M413 612.5h2M415 611.5h2M417 610.5h2M419 609.5h2M421 608.5h3M424 607.5h1M425 606.5h2M427 605.5h2M429 604.5h2M431 603.5h1M432 604.5h2M434 605.5h1M435 606.5h2M437 607.5h2M439 608.5h2M441 609.5h2M443 610.5h3M446 611.5h6M452 610.5h5M457 611.5h2M459 612.5h3M462 613.5h6M468 612.5h4M472 613.5h2M474 614.5h1M475 615.5h1M476 616.5h2M478 617.5h1M479 618.5h4M483 617.5h6M489 616.5h2M491 615.5h2M493 614.5h2M495 613.5h5M500 612.5h4M504 611.5h1M505 610.5h1M506 609.5h1M507 608.5h1M508 607.5h2M510 606.5h1M511 605.5h1M512 606.5h2M514 607.5h1M515 608.5h1M516 609.5h1M517 610.5h2M519 611.5h2M521 610.5h2M523 609.5h2M525 608.5h9M534 609.5h3M537 608.5h4M541 607.5h3M544 606.5h2M546 605.5h2M548 604.5h2M550 603.5h5M555 604.5h7M562 603.5h3M565 602.5h3M568 601.5h1M569 600.5h1M570 599.5h2M572 598.5h1M573 597.5h2M575 596.5h3M578 597.5h4M582 598.5h4M586 597.5h6M592 596.5h4M596 595.5h7M603 596.5h3M606 597.5h5M611 596.5h7M618 597.5h4M622 598.5h3M625 597.5h4M629 596.5h5M634 597.5h4M638 598.5h2M640 599.5h2M642 600.5h1M643 601.5h2M645 602.5h1M646 603.5h1M647 604.5h17M664 603.5h4M668 602.5h5M673 603.5h2M675 604.5h2M677 605.5h2M679.5 606v2M680.5 607v3M681.5 609v3M682.5 611v3M683.5 613v3M684.5 615v3M685.5 617v3M686.5 619v3M687.5 621v2M688 621.5h2M690 620.5h2M692 619.5h2M694 618.5h10M704 617.5h2M706 616.5h2M708 615.5h2M710 614.5h3M713 613.5h3M716 612.5h2M718 611.5h3M721 612.5h2M723 613.5h3M726 614.5h2M728.5 612v2M729.5 611v2M730.5 609v2M731.5 608v2M732 607.5h1M733.5 605v2M734.5 604v2M735 603.5h6M741 604.5h7M748 605.5h5M753 606.5h4M757 607.5h3M760 608.5h2M762 609.5h1M763 610.5h2M765 611.5h2M767.5 612v2M768.5 613v3M769.5 615v2M770.5 617v2M771.5 618v3M772.5 620v3M773.5 622v3M774.5 624v3M775.5 626v2M776 627.5h2M778 626.5h7M785 625.5h2M787 624.5h2M789 623.5h2M791 622.5h4M795 621.5h5M800 622.5h1M801 623.5h1M802 624.5h1M803 625.5h1M804.5 626v2M805.5 627v2M806 629.5h1M807.5 629v2M808.5 628v2M809.5 626v2M810.5 625v2M811.5 623v2M812.5 622v2M813.5 620v2M814.5 619v2M815 618.5h1M816 617.5h2M818 616.5h2M820 615.5h1M821 614.5h2M823 613.5h1M824 614.5h4M828 615.5h3M831 616.5h2M833 615.5h7M840 614.5h2M842 613.5h2M844 612.5h3M847.5 611v2M848.5 612v2M849.5 614v2M850.5 615v2M851.5 617v2M852.5 618v2M853.5 620v2M854.5 621v2M855.5 623v2M856.5 624v3M857.5 626v3M858.5 628v2M859.5 630v2M860.5 631v3M861.5 633v3M862.5 635v3M863.5 637v2M864 638.5h8M872.5 639v2M873.5 640v2M874 642.5h1M875.5 643v2M876.5 644v2M877 646.5h1M878 647.5h1M879 648.5h2M881 647.5h3M884 646.5h2M886 645.5h7M893 646.5h4M897 647.5h2M899 648.5h2M901 649.5h2M903 650.5h9M912 649.5h3M915 648.5h4M919 647.5h3M922 648.5h8M930 647.5h3M933 646.5h3M936 645.5h1M937.5 643v2M938.5 642v2M939 641.5h1M940 640.5h1M941 639.5h1M942 638.5h1M943 637.5h4M947 638.5h4M951.5 638v2M952.5 637v2M953.5 635v2M954.5 634v2M955.5 632v2M956.5 631v2M957.5 629v2M958.5 628v2M959 627.5h1M960 626.5h3M963 625.5h3M966 624.5h4M970 625.5h4M974 626.5h2M976 625.5h1M977 624.5h1M978 623.5h1M979 622.5h2M981 621.5h1M982 620.5h1M983 619.5h2M985 620.5h3M988 621.5h2M990 622.5h3M993 621.5h2M995 620.5h3M998 619.5h3M1001 620.5h3M1004 621.5h3M1007 622.5h10M1017 623.5h1M1018 624.5h1M1019 625.5h1M1020 626.5h1M1021 627.5h1M1022 628.5h1M1023 629.5h2M1025 630.5h1M1026 631.5h1M1027 632.5h1M1028 633.5h1M1029 634.5h1M1030 635.5h1M1031 636.5h3M1034 637.5h2M1036 638.5h3M1039 639.5h1M1040 638.5h3M1043 637.5h2M1045 636.5h5M1050 637.5h2M1052 638.5h3M1055.5 638v2M1056.5 637v2M1057.5 635v2M1058.5 634v2M1059.5 632v2M1060.5 631v2M1061.5 629v2M1062.5 628v2M1063.5 626v2M1064.5 625v2M1065.5 623v2M1066.5 622v2M1067 621.5h1M1068.5 619v2M1069.5 618v2M1070 617.5h1M1071 616.5h2M1073 615.5h8M1081 616.5h2M1083 617.5h1M1084 618.5h2M1086 619.5h1M1087 620.5h2M1089 621.5h2M1091 622.5h3M1094 623.5h1M1095.5 623v2M1096.5 624v2M1097 626.5h1M1098 627.5h1M1099 628.5h1M1100.5 629v2M1101.5 630v2M1102 632.5h1M1103 633.5h2M1105 634.5h2M1107 635.5h2M1109 636.5h2M1111 637.5h5M1116 638.5h5M1121 637.5h4M1125 636.5h3M1128 635.5h1M1129 634.5h1M1130 633.5h2M1132 632.5h1M1133 631.5h2M1135 630.5h11M1146 631.5h4M1150 632.5h2M1152 631.5h1M1153 630.5h1M1154 629.5h1M1155 628.5h1M1156 627.5h1M1157 626.5h1M1158 625.5h1M1159 624.5h3M1162 625.5h4M1166 626.5h3M1169 627.5h2M1171 628.5h2M1173 629.5h2M1175 630.5h8" fill="none" stroke="#1e90ff" stroke-width="1"/>
</g>
<g shape-rendering="crispEdges" fill="#000">
<rect x="1203" y="35" width="2" height="1"/>
<rect x="1203" y="68" width="2" height="1"/>
<rect x="1203" y="101" width="2" height="1"/>
<rect x="1203" y="134" width="2" height="1"/>
<rect x="1203" y="167" width="2" height="1"/>
<rect x="1203" y="200" width="2" height="1"/>
<rect x="1203" y="233" width="2" height="1"/>
<rect x="1203" y="266" width="2" height="1"/>
<rect x="1203" y="299" width="2" height="1"/>
<rect x="1203" y="332" width="2" height="1"/>
<rect x="1203" y="365" width="2" height="1"/>
<rect x="1203" y="398" width="2" height="1"/>
<rect x="1203" y="405" width="1" height="1"/>
<rect x="1203" y="470" width="1" height="1"/>
<rect x="1203" y="565" width="1" height="1"/>
<rect x="1203" y="570" width="1" height="1"/>
<rect x="1203" y="601" width="1" height="1"/>
<rect x="1203" y="644" width="1" height="1"/>
<rect x="1203" y="674" width="1" height="1"/>
<rect x="7" y="677" width="1" height="3"/>
<rect x="71" y="677" width="1" height="3"/>
<rect x="135" y="677" width="1" height="3"/>
<rect x="199" y="677" width="1" height="3"/>
<rect x="263" y="677" width="1" height="3"/>
<rect x="327" y="677" width="1" height="3"/>
<rect x="391" y="677" width="1" height="3"/>
<rect x="455" y="677" width="1" height="3"/>
<rect x="519" y="677" width="1" height="3"/>
<rect x="583" y="677" width="1" height="3"/>
<rect x="647" y="677" width="1" height="3"/>
<rect x="711" y="677" width="1" height="3"/>
<rect x="775" y="677" width="1" height="3"/>
<rect x="839" y="677" width="1" height="3"/>
<rect x="903" y="677" width="1" height="3"/>
<rect x="967" y="677" width="1" height="3"/>
<rect x="1031" y="677" width="1" height="3"/>
<rect x="1095" y="677" width="1" height="3"/>
<rect x="1159" y="677" width="1" height="3"/>
</g>
<g class="ax">
<text transform="translate(1208 38.7) scale(1 1.13)" >3343.790</text>
<text transform="translate(1208 71.7) scale(1 1.13)" >3328.490</text>
<text transform="translate(1208 104.7) scale(1 1.13)" >3313.640</text>
<text transform="translate(1208 137.7) scale(1 1.13)" >3298.340</text>
<text transform="translate(1208 170.7) scale(1 1.13)" >3283.490</text>
<text transform="translate(1208 203.7) scale(1 1.13)" >3268.190</text>
<text transform="translate(1208 236.7) scale(1 1.13)" >3253.340</text>
<text transform="translate(1208 269.7) scale(1 1.13)" >3238.040</text>
<text transform="translate(1208 302.7) scale(1 1.13)" >3223.190</text>
<text transform="translate(1208 335.7) scale(1 1.13)" >3207.890</text>
<text transform="translate(1208 368.7) scale(1 1.13)" >3193.040</text>
<text transform="translate(1208 401.7) scale(1 1.13)" >3178.190</text>
<text transform="translate(1205.5 413.7) scale(1 1.13)" >14.4631</text>
<text transform="translate(1205.5 474) scale(1 1.13)" >0.00</text>
<text transform="translate(1205.5 563) scale(1 1.13)" >-21.0441</text>
<text transform="translate(1205.5 579) scale(1 1.13)" >100</text>
<text transform="translate(1205.5 605) scale(1 1.13)" >70</text>
<text transform="translate(1205.5 648) scale(1 1.13)" >30</text>
<text transform="translate(1205.5 672.7) scale(1 1.13)" >0</text>
<text transform="translate(5.5 688.7) scale(1 1.13)" textLength="52" lengthAdjust="spacing">31 Dec 2019</text>
<text transform="translate(69.5 688.7) scale(1 1.13)" textLength="47.8" lengthAdjust="spacing">2 Jan 16:00</text>
<text transform="translate(133.5 688.7) scale(1 1.13)" textLength="47.8" lengthAdjust="spacing">5 Jan 23:00</text>
<text transform="translate(197.5 688.7) scale(1 1.13)" textLength="47.8" lengthAdjust="spacing">7 Jan 04:00</text>
<text transform="translate(261.5 688.7) scale(1 1.13)" textLength="47.8" lengthAdjust="spacing">8 Jan 12:00</text>
<text transform="translate(325.5 688.7) scale(1 1.13)" textLength="47.8" lengthAdjust="spacing">9 Jan 20:00</text>
<text transform="translate(389.5 688.7) scale(1 1.13)" textLength="52.8" lengthAdjust="spacing">13 Jan 00:00</text>
<text transform="translate(453.5 688.7) scale(1 1.13)" textLength="52.8" lengthAdjust="spacing">14 Jan 08:00</text>
<text transform="translate(517.5 688.7) scale(1 1.13)" textLength="52.8" lengthAdjust="spacing">15 Jan 16:00</text>
<text transform="translate(581.5 688.7) scale(1 1.13)" textLength="52.8" lengthAdjust="spacing">17 Jan 00:00</text>
<text transform="translate(645.5 688.7) scale(1 1.13)" textLength="52.8" lengthAdjust="spacing">20 Jan 04:00</text>
<text transform="translate(709.5 688.7) scale(1 1.13)" textLength="52.8" lengthAdjust="spacing">21 Jan 12:00</text>
<text transform="translate(773.5 688.7) scale(1 1.13)" textLength="52.8" lengthAdjust="spacing">22 Jan 20:00</text>
<text transform="translate(837.5 688.7) scale(1 1.13)" textLength="52.8" lengthAdjust="spacing">24 Jan 04:00</text>
<text transform="translate(901.5 688.7) scale(1 1.13)" textLength="52.8" lengthAdjust="spacing">27 Jan 08:00</text>
<text transform="translate(965.5 688.7) scale(1 1.13)" textLength="52.8" lengthAdjust="spacing">28 Jan 16:00</text>
<text transform="translate(1029.5 688.7) scale(1 1.13)" textLength="52.8" lengthAdjust="spacing">30 Jan 00:00</text>
<text transform="translate(1093.5 688.7) scale(1 1.13)" textLength="52.8" lengthAdjust="spacing">31 Jan 08:00</text>
<text transform="translate(1157.5 688.7) scale(1 1.13)" textLength="48.8" lengthAdjust="spacing">3 Feb 12:00</text>
<text transform="translate(21.5 43.1) scale(1 1.13)" xml:space="preserve" textLength="212" lengthAdjust="spacing">SP500-,H4  3240.250 3243.000 3239.000 3241.000</text>
<text transform="translate(10.5 415.7) scale(1 1.13)" textLength="134.5" lengthAdjust="spacing">MACD(12,26,9) -8.7295 -9.7827</text>
<text transform="translate(10.5 580.7) scale(1 1.13)" textLength="68.5" lengthAdjust="spacing">RSI(14) 43.2638</text>
<path d="M10 38H17L13.5 42Z" fill="#000" stroke="#000" stroke-width="0.3"/>
</g>
<rect x="1205" y="158" width="44" height="11" fill="#ff0000" shape-rendering="crispEdges"/><text transform="translate(1208 167) scale(1 1.13)" class="ax" style="fill:#fff;stroke:#fff">3285.000</text>
<rect x="1205" y="255" width="44" height="11" fill="#000" shape-rendering="crispEdges"/><text transform="translate(1208 264) scale(1 1.13)" class="ax" style="fill:#fff;stroke:#fff">3241.000</text>
<rect x="1205" y="278" width="44" height="11" fill="#00ff7f" shape-rendering="crispEdges"/><text transform="translate(1208 287) scale(1 1.13)" class="ax" style="fill:#fff;stroke:#fff">3230.000</text>
<rect x="1205" y="344" width="44" height="11" fill="#4169e1" shape-rendering="crispEdges"/><text transform="translate(1208 353) scale(1 1.13)" class="ax" style="fill:#fff;stroke:#fff">3200.000</text>
</svg>
<div class="note">多空转折点<span>3230</span></div>
</body></html>
